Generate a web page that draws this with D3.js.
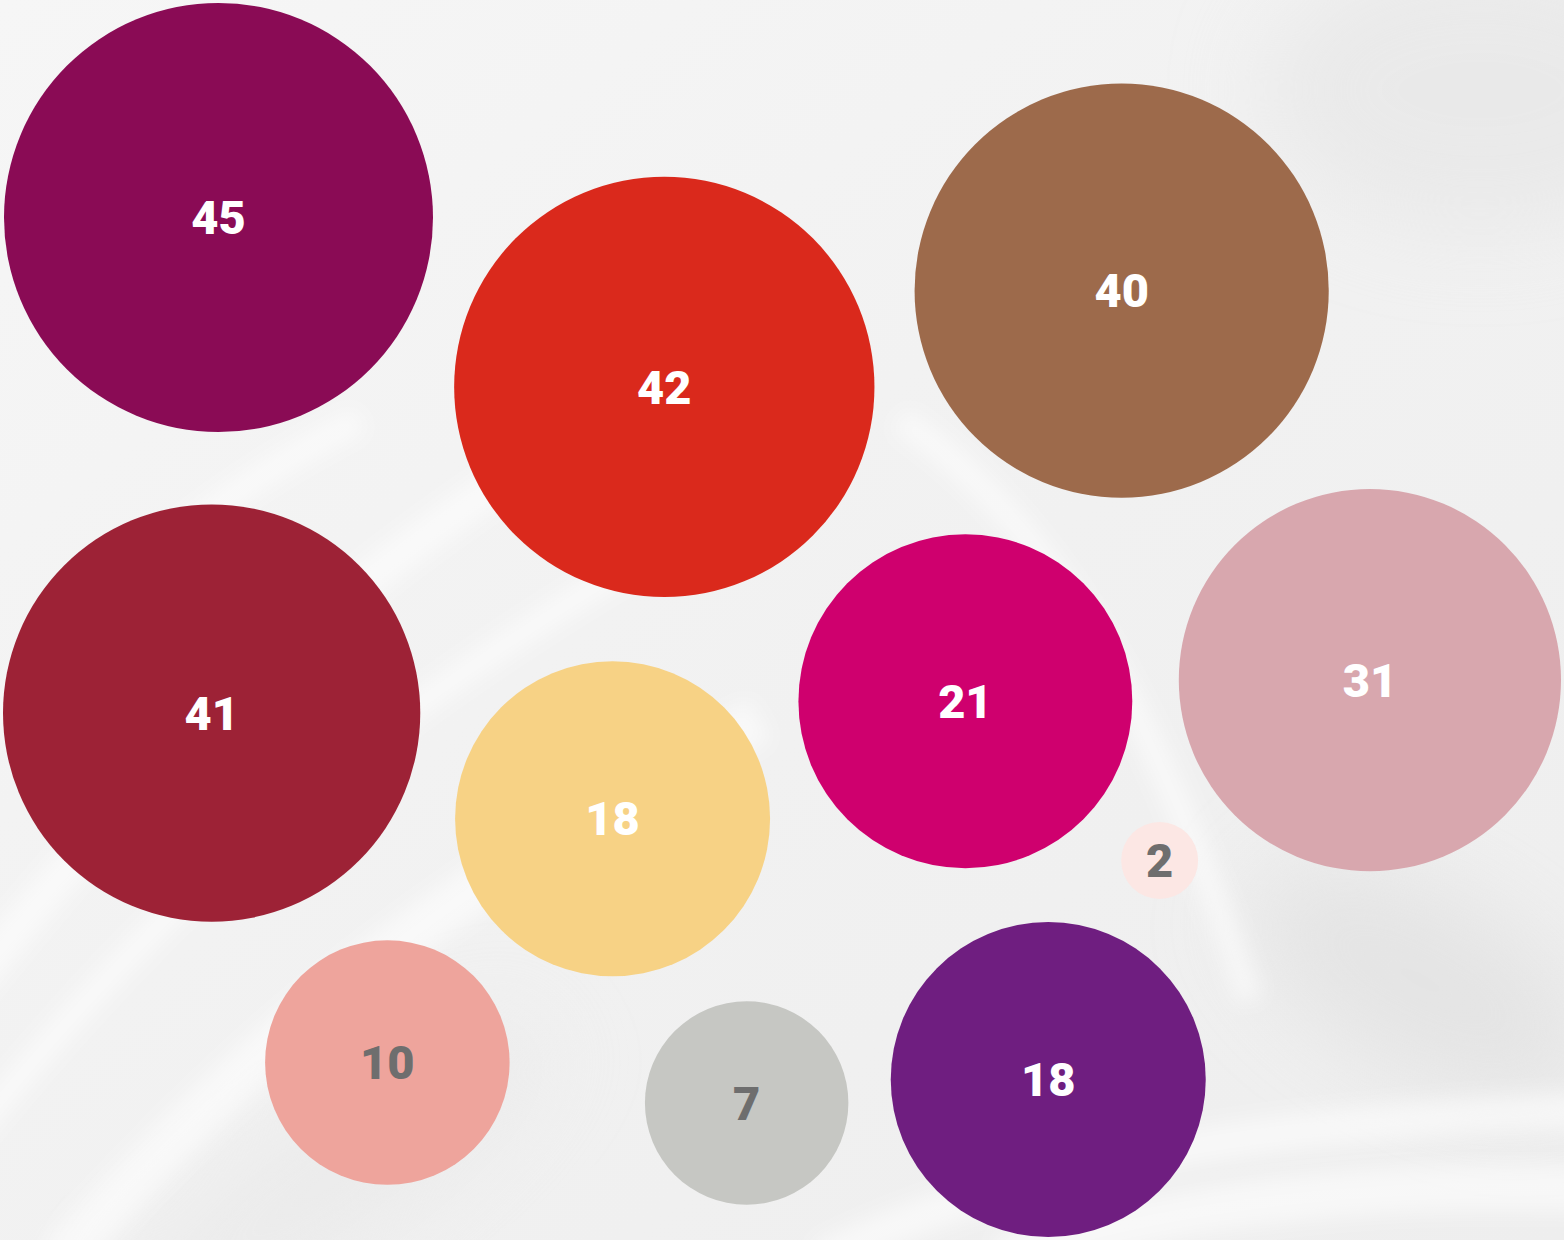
<!DOCTYPE html>
<html>
<head>
<meta charset="utf-8">
<script src="https://cdn.jsdelivr.net/npm/d3@7/dist/d3.min.js"></script>
<style>
  html, body { margin: 0; padding: 0; background: #f2f2f2; }
  svg { display: block; }
  .label { font-family: Roboto, Inter, "Open Sans", sans-serif; font-weight: 900; }
</style>
</head>
<body>
<svg id="chart" width="1564" height="1240"></svg>
<script>
// Bubble values, in seeding order for the packing layout
const values = [21, 18, 42, 18, 41, 31, 7, 45, 2, 10, 40];
// Fill for each bubble
const fills = ["#cf006e", "#f7d285", "#da291c", "#6f1e80", "#9d2236", "#d8a7ae",
               "#c6c7c3", "#8a0b55", "#fce7e4", "#eea49c", "#9d6a4b"];
// Label ink for each bubble (grey on the pale fills)
const inks = ["#ffffff", "#ffffff", "#ffffff", "#ffffff", "#ffffff", "#ffffff",
              "#6e6e6e", "#ffffff", "#6e6e6e", "#6e6e6e", "#ffffff"];

const W = 1564, H = 1240;
const GAP = 16;      // half of the spacing kept between neighbouring bubbles
const EDGE = 3;      // inset from the frame

const svg = d3.select("#chart");

// ---- soft textured backdrop ----
const defs = svg.append("defs");
defs.append("filter").attr("id", "soft").attr("x", "-50%").attr("y", "-50%")
  .attr("width", "200%").attr("height", "200%")
  .append("feGaussianBlur").attr("stdDeviation", 10);
defs.append("filter").attr("id", "haze").attr("x", "-50%").attr("y", "-50%")
  .attr("width", "200%").attr("height", "200%")
  .append("feGaussianBlur").attr("stdDeviation", 45);
const bg = defs.append("linearGradient").attr("id", "bgGrad")
  .attr("x1", 0).attr("y1", 0).attr("x2", 1).attr("y2", 1);
bg.append("stop").attr("offset", 0).attr("stop-color", "#f6f6f6");
bg.append("stop").attr("offset", 0.55).attr("stop-color", "#f1f1f1");
bg.append("stop").attr("offset", 1).attr("stop-color", "#eeeeee");

const back = svg.append("g");
back.append("rect").attr("width", W).attr("height", H).attr("fill", "url(#bgGrad)");
back.append("ellipse").attr("cx", 1420).attr("cy", 980).attr("rx", 190).attr("ry", 90)
  .attr("transform", "rotate(28 1420 980)").attr("fill", "#dcdcdc").attr("opacity", 0.55)
  .attr("filter", "url(#haze)");
back.append("ellipse").attr("cx", 1480).attr("cy", 90).attr("rx", 220).attr("ry", 140)
  .attr("fill", "#e2e2e2").attr("opacity", 0.5).attr("filter", "url(#haze)");
back.append("ellipse").attr("cx", 330).attr("cy", 1180).attr("rx", 260).attr("ry", 70)
  .attr("transform", "rotate(-35 330 1180)").attr("fill", "#e6e6e6").attr("opacity", 0.5)
  .attr("filter", "url(#haze)");
const streaks = [
  "M -40 1150 C 120 950, 300 760, 640 560",
  "M -40 1000 C 100 820, 260 640, 520 470",
  "M 60 1260 C 260 1040, 420 900, 760 720",
  "M -40 760 C 60 640, 160 520, 360 420",
  "M 820 1260 C 1000 1170, 1250 1120, 1600 1110",
  "M 1000 1260 C 1150 1210, 1350 1180, 1600 1190",
  "M 900 420 C 1050 520, 1150 700, 1250 1000"
];
back.selectAll("path.streak").data(streaks).join("path")
  .attr("class", "streak").attr("d", d => d)
  .attr("fill", "none").attr("stroke", "#ffffff")
  .attr("stroke-width", (d, i) => 26 + (i % 3) * 10)
  .attr("stroke-opacity", 0.55).attr("filter", "url(#soft)");

// ---- bubble sizes and packing ----
const radius = d3.scaleSymlog().constant(1)
  .domain([d3.min(values), d3.max(values)])
  .range([38.5, 214.5]);

// phyllotaxis seed, widened to suit the frame
const golden = Math.PI * (3 - Math.sqrt(5));
const nodes = values.map((v, i) => {
  const rr = 200 * Math.sqrt(0.5 + i), a = i * golden;
  return { i, value: v, r: radius(v), x: W / 2 + 1.2 * rr * Math.cos(a), y: H / 2 + rr * Math.sin(a) };
});

function clamp(d) {
  d.x = Math.max(d.r + EDGE, Math.min(W - d.r - EDGE, d.x));
  d.y = Math.max(d.r + EDGE, Math.min(H - d.r - EDGE, d.y));
}

const sim = d3.forceSimulation(nodes)
  .force("x", d3.forceX(W / 2).strength(0.02))
  .force("y", d3.forceY(H / 2).strength(0.04))
  .force("collide", d3.forceCollide(d => d.r + GAP).strength(1).iterations(4))
  .stop();
for (let k = 0; k < 600; k++) { sim.tick(); nodes.forEach(clamp); }

// spread the centres so the pack reaches every side of the frame
function fit(key, size) {
  const lo = d3.least(nodes, d => d[key] - d.r), hi = d3.greatest(nodes, d => d[key] + d.r);
  const s = (size - 2 * EDGE - lo.r - hi.r) / (hi[key] - lo[key]);
  if (!(s > 1)) return;
  const off = EDGE + lo.r - s * lo[key];
  nodes.forEach(d => { d[key] = off + s * d[key]; });
}
fit("x", W);
fit("y", H);

// ---- draw ----
const bubble = svg.append("g").selectAll("g").data(nodes).join("g")
  .attr("transform", d => `translate(${d.x},${d.y})`);
bubble.append("circle").attr("r", d => d.r).attr("fill", d => fills[d.i]);
bubble.append("text").attr("class", "label")
  .attr("text-anchor", "middle").attr("dy", "0.355em")
  .attr("font-size", 47).attr("fill", d => inks[d.i])
  .text(d => d.value);
</script>
</body>
</html>
